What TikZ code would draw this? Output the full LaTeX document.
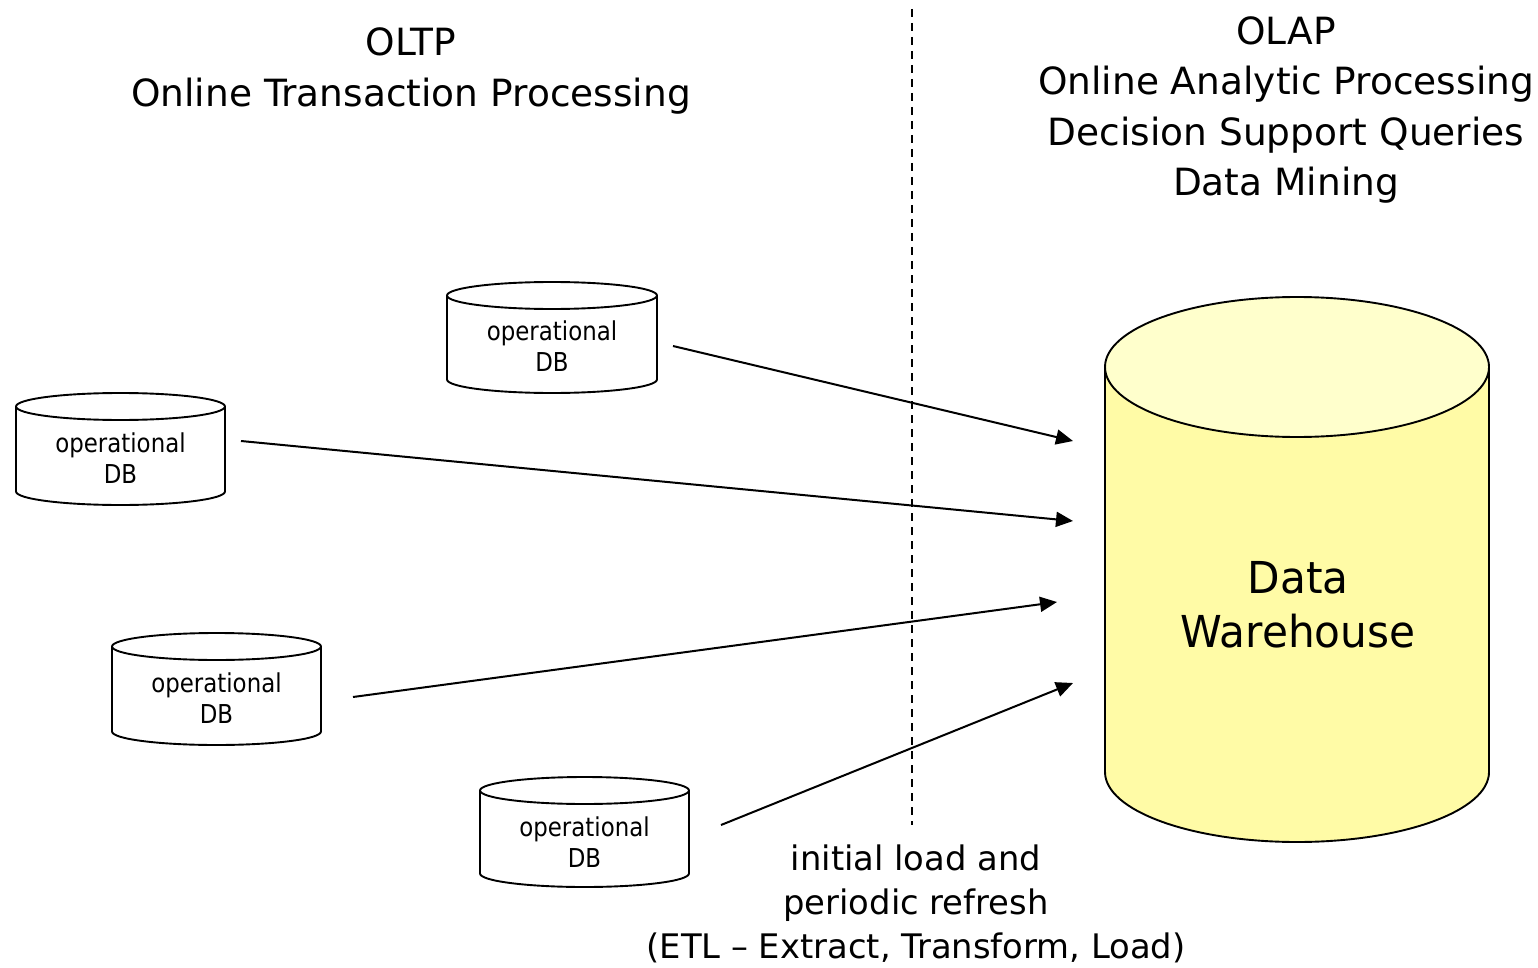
\documentclass[tikz,border=0pt]{standalone}
\usepackage{fontspec}
\setmainfont{DejaVu Sans}
\newfontfamily\narrowf{DejaVu Sans}[FakeStretch=0.88]
\newfontfamily\dwf{DejaVu Sans}[FakeStretch=0.96]
\usetikzlibrary{arrows.meta}
\definecolor{dwbody}{HTML}{FFFBA6}
\definecolor{dwcap}{HTML}{FFFFCC}
\tikzset{
  cylline/.style={line width=1.9pt, line join=round},
  flow/.style={line width=2pt, -{Triangle[length=17pt,width=15pt]}},
  dbtext/.style={align=center, font=\narrowf\fontsize{26}{31}\selectfont, inner sep=0pt},
  headtext/.style={align=center, font=\fontsize{37.5}{50.5}\selectfont, inner sep=0pt},
  divider/.style={line width=1.8pt, dash pattern=on 8pt off 6pt}
}
% \mycyl{cx}{yt}{yb}{rx}{ry}{bodyfill}{capfill}
\newcommand\mycyl[7]{%
  \path[cylline, fill=#6, draw=black] ({#1-#4},#2) -- ({#1-#4},#3)
    arc[start angle=180, end angle=0, x radius=#4, y radius=#5]
    -- ({#1+#4},#2);
  \path[cylline, fill=#7, draw=black] (#1,#2) ellipse[x radius=#4, y radius=#5];
}
\begin{document}
\begin{tikzpicture}[x=1pt, y=-1pt]
\useasboundingbox (0,0) rectangle (1538,968);

% divider
\coordinate (divtop) at (912,9);
\coordinate (divbot) at (912,825);
\draw[divider] (divtop) -- (divbot);

% headings
\node[headtext] (oltp) at (411,71) {OLTP\\Online Transaction Processing};
\node[headtext] (olap) at (1286,110) {OLAP\\Online Analytic Processing\\Decision Support Queries\\Data Mining};

% small cylinders
\mycyl{552}{295.5}{379.5}{105}{13.5}{white}{white}
\mycyl{120.5}{406.5}{491.5}{104.5}{13.5}{white}{white}
\mycyl{216.5}{646.5}{731.5}{104.5}{13.5}{white}{white}
\mycyl{584.5}{790.5}{873.5}{104.5}{13.5}{white}{white}
\node[dbtext] (db1) at (552,346) {operational\\DB};
\node[dbtext] (db2) at (120.5,458) {operational\\DB};
\node[dbtext] (db3) at (216.5,698) {operational\\DB};
\node[dbtext] (db4) at (584.5,842) {operational\\DB};

% data warehouse
\mycyl{1297}{367}{772}{192}{70}{dwbody}{dwcap}
\node[align=center, font=\dwf\fontsize{44}{54}\selectfont, inner sep=0pt] (dw) at (1298,605) {Data\\Warehouse};

% arrow endpoints
\coordinate (s1) at (673,346);  \coordinate (e1) at (1073,441);
\coordinate (s2) at (241,441);  \coordinate (e2) at (1073,521);
\coordinate (s3) at (353,697);  \coordinate (e3) at (1057,602);
\coordinate (s4) at (721,825);  \coordinate (e4) at (1073,683);
\draw[flow] (s1) -- (e1);
\draw[flow] (s2) -- (e2);
\draw[flow] (s3) -- (e3);
\draw[flow] (s4) -- (e4);

% ETL label
\node[align=center, font=\fontsize{33.8}{44}\selectfont, inner sep=0pt] (etl) at (916,904) {initial load and\\periodic refresh\\(ETL – Extract, Transform, Load)};
\end{tikzpicture}
\end{document}
